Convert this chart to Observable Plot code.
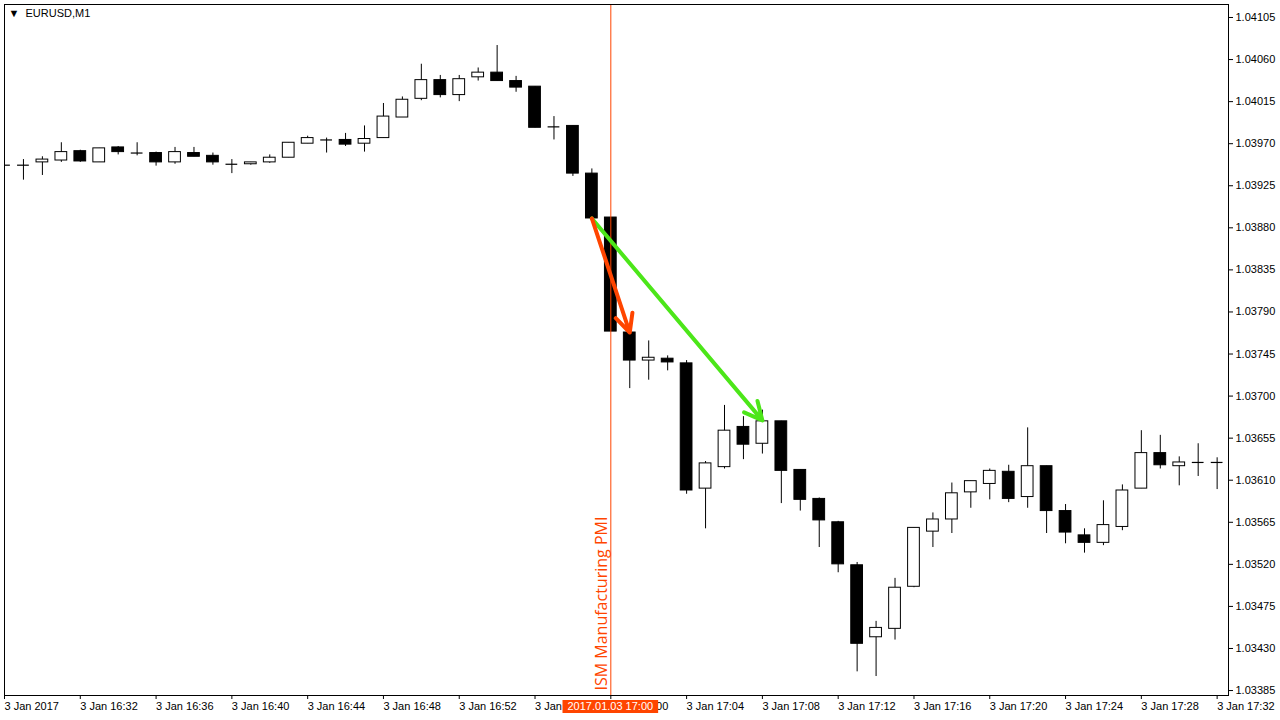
<!DOCTYPE html>
<html>
<head>
<meta charset="utf-8">
<script src="https://cdn.jsdelivr.net/npm/d3@7"></script>
<script src="https://cdn.jsdelivr.net/npm/@observablehq/plot@0.6"></script>
<style>
  html, body { margin: 0; padding: 0; background: #fff; }
  #chart { width: 1280px; height: 720px; }
</style>
</head>
<body>
<div id="chart"></div>
<script>
// ---------------- data ----------------
const chartTitle = "EURUSD,M1";
const times = ["16:28","16:29","16:30","16:31","16:32","16:33","16:34","16:35","16:36","16:37",
  "16:38","16:39","16:40","16:41","16:42","16:43","16:44","16:45","16:46","16:47",
  "16:48","16:49","16:50","16:51","16:52","16:53","16:54","16:55","16:56","16:57",
  "16:58","16:59","17:00","17:01","17:02","17:03","17:04","17:05","17:06","17:07",
  "17:08","17:09","17:10","17:11","17:12","17:13","17:14","17:15","17:16","17:17",
  "17:18","17:19","17:20","17:21","17:22","17:23","17:24","17:25","17:26","17:27",
  "17:28","17:29","17:30","17:31","17:32"];
const open = [1.03947,1.03947,1.03950,1.03952,1.03962,1.03950,1.03966,1.03960,1.03960,1.03950,
  1.03960,1.03957,1.03948,1.03948,1.03950,1.03955,1.03970,1.03974,1.03974,1.03970,
  1.03976,1.03998,1.04018,1.04038,1.04022,1.04041,1.04046,1.04037,1.04031,1.03988,
  1.03989,1.03938,1.03891,1.03768,1.03738,1.03740,1.03735,1.03601,1.03624,1.03667,
  1.03649,1.03673,1.03621,1.03590,1.03565,1.03519,1.03442,1.03451,1.03496,1.03555,
  1.03568,1.03597,1.03606,1.03619,1.03592,1.03625,1.03577,1.03551,1.03543,1.03560,
  1.03601,1.03639,1.03625,1.03629,1.03629];
const high = [1.03954,1.03953,1.03956,1.03971,1.03963,1.03965,1.03967,1.03971,1.03961,1.03966,
  1.03966,1.03960,1.03953,1.03950,1.03958,1.03971,1.03978,1.03976,1.03981,1.03989,
  1.04013,1.04020,1.04055,1.04043,1.04043,1.04051,1.04075,1.04042,1.04031,1.03999,
  1.03989,1.03943,1.03891,1.03768,1.03759,1.03743,1.03738,1.03630,1.03690,1.03678,
  1.03685,1.03673,1.03621,1.03591,1.03566,1.03522,1.03459,1.03505,1.03559,1.03575,
  1.03607,1.03609,1.03622,1.03626,1.03666,1.03625,1.03584,1.03558,1.03588,1.03605,
  1.03663,1.03658,1.03635,1.03649,1.03634];
const low = [1.03940,1.03931,1.03936,1.03950,1.03950,1.03950,1.03958,1.03957,1.03946,1.03948,
  1.03956,1.03947,1.03938,1.03947,1.03949,1.03955,1.03970,1.03960,1.03967,1.03961,
  1.03976,1.03998,1.04016,1.04019,1.04015,1.04037,1.04037,1.04025,1.03987,1.03974,
  1.03935,1.03886,1.03769,1.03708,1.03717,1.03727,1.03595,1.03558,1.03622,1.03632,
  1.03638,1.03585,1.03577,1.03538,1.03511,1.03405,1.03400,1.03439,1.03495,1.03538,
  1.03553,1.03580,1.03589,1.03586,1.03580,1.03553,1.03542,1.03532,1.03540,1.03556,
  1.03601,1.03622,1.03604,1.03614,1.03600];
const close = [1.03947,1.03947,1.03953,1.03961,1.03951,1.03965,1.03961,1.03960,1.03950,1.03961,
  1.03956,1.03950,1.03948,1.03950,1.03955,1.03971,1.03976,1.03974,1.03969,1.03975,
  1.03999,1.04017,1.04038,1.04022,1.04039,1.04046,1.04037,1.04030,1.03987,1.03988,
  1.03938,1.03890,1.03769,1.03738,1.03741,1.03736,1.03599,1.03628,1.03663,1.03648,
  1.03673,1.03620,1.03589,1.03567,1.03520,1.03435,1.03452,1.03495,1.03559,1.03568,
  1.03596,1.03609,1.03620,1.03590,1.03625,1.03577,1.03554,1.03543,1.03562,1.03599,
  1.03639,1.03626,1.03629,1.03629,1.03629];

const xTickTimes  = ["16:28","16:32","16:36","16:40","16:44","16:48","16:52","16:56","17:00",
  "17:04","17:08","17:12","17:16","17:20","17:24","17:28","17:32"];
const xTickLabels = ["3 Jan 2017","3 Jan 16:32","3 Jan 16:36","3 Jan 16:40","3 Jan 16:44","3 Jan 16:48",
  "3 Jan 16:52","3 Jan 16:56","3 Jan 17:00","3 Jan 17:04","3 Jan 17:08","3 Jan 17:12","3 Jan 17:16",
  "3 Jan 17:20","3 Jan 17:24","3 Jan 17:28","3 Jan 17:32"];
const yTicks = [1.03385,1.03430,1.03475,1.03520,1.03565,1.03610,1.03655,1.03700,1.03745,
  1.03790,1.03835,1.03880,1.03925,1.03970,1.04015,1.04060,1.04105];

const eventTime  = "17:00";
const eventLabel = "ISM Manufacturing PMI";
const eventStamp = "2017.01.03 17:00";

const arrowStartTime  = "16:59";
const arrowStartPrice = 1.03890;
const arrowEndTimes   = ["17:08", "17:01"];
const arrowEndPrices  = [1.03674, 1.03768];

// ---------------- build ----------------
const T = s => new Date(`2017-01-03T${s}:00Z`);
const candles = times.map((t, i) => ({t: T(t), open: open[i], high: high[i], low: low[i], close: close[i]}));
const halfBody = 0.31 * 60000;
const fmtHM = d3.utcFormat("%H:%M");
const arrows = arrowEndTimes.map((t, i) => ({
  x1: T(arrowStartTime), y1: arrowStartPrice, x2: T(t), y2: arrowEndPrices[i]
}));
const arrowColors = ["#4ce619", "#ff4500"];

const FONT = "Liberation Sans, Arial, DejaVu Sans, sans-serif";
const RED = "#ff4500";

function stampMark(index, scales, values, dims) {
  const x = scales.x(T(eventTime));
  const yTop = dims.height - dims.marginBottom + 5;
  const g = d3.create("svg:g");
  const ctx = document.createElement("canvas").getContext("2d");
  ctx.font = `11px ${FONT}`;
  const w = ctx.measureText(eventStamp).width + 10;
  g.append("rect").attr("x", x - w / 2).attr("y", yTop).attr("width", w).attr("height", 13).attr("fill", RED);
  g.append("text").attr("x", x).attr("y", yTop + 6.5).attr("dy", "0.35em")
    .attr("text-anchor", "middle").attr("fill", "#fff")
    .attr("font-family", FONT).attr("font-size", 11).text(eventStamp);
  return g.node();
}

const chart = Plot.plot({
  width: 1280,
  height: 720,
  marginLeft: 4,
  marginRight: 52,
  marginTop: 4,
  marginBottom: 25,
  style: {fontFamily: FONT, fontSize: "11px", background: "#fff", color: "#000"},
  x: {type: "utc", domain: [T("16:28"), new Date(+T("17:32") + 36000)]},
  y: {domain: [1.033797, 1.041189]},
  marks: [
    Plot.ruleX(candles, {x: "t", y1: "low", y2: "high", stroke: "#000", strokeWidth: 1, clip: true}),
    Plot.rect(candles, {
      x1: d => new Date(+d.t - halfBody), x2: d => new Date(+d.t + halfBody),
      y1: "open", y2: "close",
      fill: d => d.close > d.open ? "#ffffff" : "#000000",
      stroke: "#000", strokeWidth: 1, clip: true
    }),
    Plot.ruleY(candles.filter(d => d.open === d.close), {
      y: "open", x1: d => new Date(+d.t - halfBody), x2: d => new Date(+d.t + halfBody),
      stroke: "#000", strokeWidth: 1.2, clip: true
    }),
    Plot.ruleX([T(eventTime)], {stroke: RED, strokeWidth: 1}),
    Plot.text([eventLabel], {
      x: () => T(eventTime), frameAnchor: "bottom", text: d => d, rotate: -90,
      textAnchor: "start", lineAnchor: "middle", dx: -9, dy: -5,
      fill: RED, fontSize: 16, fontFamily: "Open Sans, DejaVu Sans, sans-serif"
    }),
    Plot.arrow(arrows, {
      x1: "x1", y1: "y1", x2: "x2", y2: "y2",
      stroke: (d, i) => arrowColors[i], strokeWidth: 4, headLength: 7.5, headAngle: 52
    }),
    Plot.axisX({
      ticks: xTickTimes.map(T), tickSize: 4, tickPadding: 3,
      tickFormat: d => xTickLabels[xTickTimes.indexOf(fmtHM(d))],
      textAnchor: "start", dx: 0, label: null, fontSize: 11, stroke: "#000"
    }),
    Plot.axisY({
      anchor: "right", ticks: yTicks, tickSize: 4, tickPadding: 3,
      tickFormat: d => d.toFixed(5), label: null, fontSize: 11, stroke: "#000"
    }),
    Plot.frame({stroke: "#000"}),
    Plot.text([chartTitle], {
      frameAnchor: "top-left", text: d => "\u25BC  " + d, dx: 4, dy: 5,
      fontSize: 11, fill: "#000", textAnchor: "start", lineAnchor: "top"
    }),
    stampMark
  ]
});
document.getElementById("chart").append(chart);
</script>
</body>
</html>
